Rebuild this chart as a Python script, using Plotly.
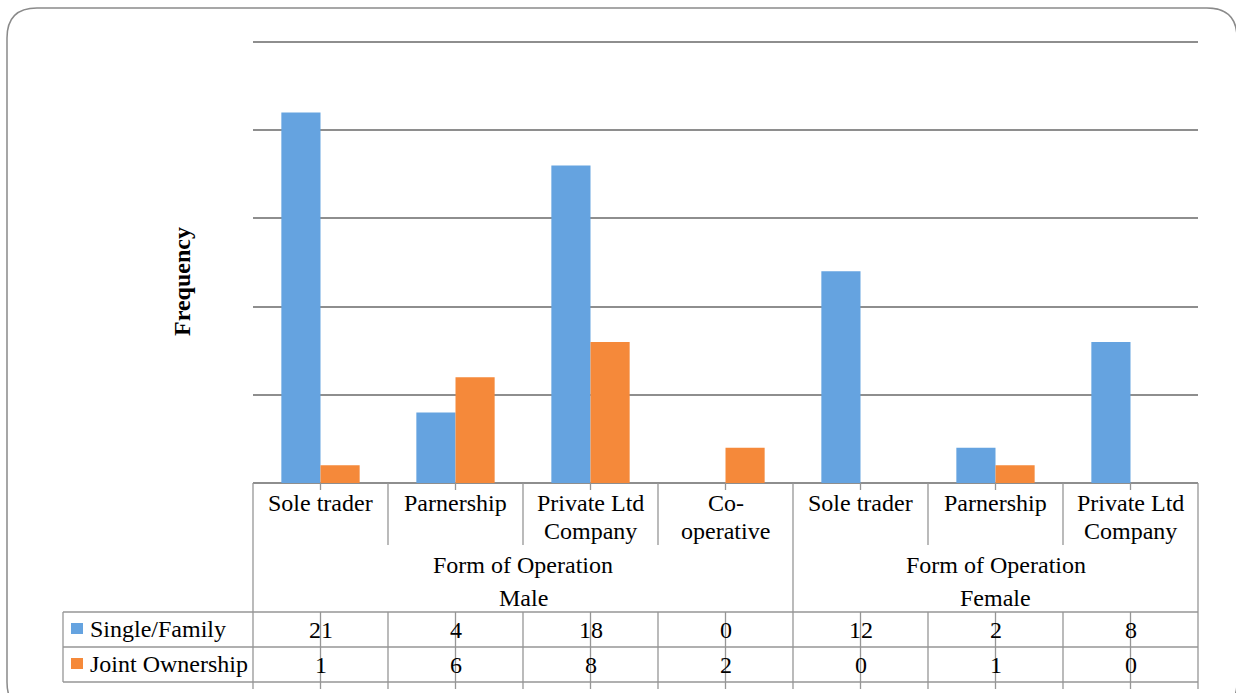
import plotly.graph_objects as go

# ---------------- data ----------------
categories = ["Sole trader", "Parnership", "Private Ltd\nCompany", "Co-\noperative",
              "Sole trader", "Parnership", "Private Ltd\nCompany"]
group_title = "Form of Operation"
group_names = ["Male", "Female"]
group_sizes = [4, 3]
series_names = ["Single/Family", "Joint Ownership"]
single_family = [21, 4, 18, 0, 12, 2, 8]
joint_ownership = [1, 6, 8, 2, 0, 1, 0]
y_ticks = [0, 5, 10, 15, 20, 25]
y_title = "Frequency"

# ---------------- style ----------------
W, H = 1236, 693
L, R, T, B = 253, 1198, 38, 483
TOP_GRID_PX = 42
YMAX = y_ticks[-1] * (B - T) / (B - TOP_GRID_PX)
BLUE = "#65A3E0"
ORANGE = "#F5893A"
GRID = "#8E8E8E"
TLINE = "#969696"
FONT = "Liberation Serif"
n = len(categories)
xs = list(range(n))
XMIN, XMAX = -0.5, n - 0.5


def px(p):
    return (p - L) / (R - L)


def py(p):
    return (B - p) / (B - T)


def dx(v):
    # data x -> paper x
    return (v - XMIN) / (XMAX - XMIN)


fig = go.Figure()
fig.add_bar(x=xs, y=single_family, name=series_names[0], marker_color=BLUE, marker_line_width=0)
fig.add_bar(x=xs, y=joint_ownership, name=series_names[1], marker_color=ORANGE, marker_line_width=0)

shapes = []
annotations = []


def hline(x0, x1, y, color=TLINE, w=1.3):
    shapes.append(dict(type="line", xref="paper", yref="paper", x0=x0, x1=x1,
                       y0=py(y), y1=py(y), line=dict(color=color, width=w)))


def vline(x, y0, y1, color=TLINE, w=1.3):
    shapes.append(dict(type="line", xref="paper", yref="paper", x0=x, x1=x,
                       y0=py(y0), y1=py(y1), line=dict(color=color, width=w)))


def text(s, x, y, size=24, bold=False, xanchor="center", angle=0):
    annotations.append(dict(text=f"<b>{s}</b>" if bold else s, xref="paper", yref="paper",
                            x=x, y=py(y), xanchor=xanchor, yanchor="middle", showarrow=False,
                            textangle=angle, font=dict(family=FONT, size=size, color="#000000")))


ROW_CAT, ROW_GRP, ROW1, ROW2, ROW_END = 545, 612, 647, 682, 689

# horizontal table lines
for yy in (ROW_GRP, ROW1, ROW2):
    hline(px(63), 1.0, yy)
vline(px(63), ROW_GRP, ROW2)

# category boundary lines
bounds = list(range(n + 1))
group_edges = [0]
for s in group_sizes:
    group_edges.append(group_edges[-1] + s)
for b in bounds:
    xb = dx(b - 0.5)
    vline(xb, B, ROW_CAT)
    vline(xb, ROW_GRP, ROW_END)
    if b in group_edges:
        vline(xb, ROW_CAT, ROW_GRP)

# tick marks at category centres
for i in xs:
    vline(dx(i), B, B + 7)
    vline(dx(i), ROW_GRP, ROW_END)

# category labels
for i, c in enumerate(categories):
    for k, line in enumerate(c.split("\n")):
        text(line, dx(i), 503 + 28 * k)

# group labels
for g, name in enumerate(group_names):
    cxg = dx((group_edges[g] + group_edges[g + 1] - 1) / 2)
    text(group_title, cxg, 565)
    text(name, cxg, 598)

# data table values
for i in xs:
    text(str(single_family[i]), dx(i), 630)
    text(str(joint_ownership[i]), dx(i), 665)

# legend keys
for k, (name, col) in enumerate(zip(series_names, [BLUE, ORANGE])):
    yc = 629 + 35 * k
    shapes.append(dict(type="rect", xref="paper", yref="paper", x0=px(71), x1=px(83),
                       y0=py(yc - 6), y1=py(yc + 5), fillcolor=col, line=dict(width=0)))
    text(name, px(88), yc, xanchor="left")

# y title
text(y_title, px(182), 282, bold=True, angle=-90)

# rounded border
bx0, by0, bx1, by1, r = 7, 8, 1237, 712, 30
pts = [
    ("M", [(bx0 + r, by0)]),
    ("L", [(bx1 - r, by0)]),
    ("Q", [(bx1, by0), (bx1, by0 + r)]),
    ("L", [(bx1, by1 - r)]),
    ("Q", [(bx1, by1), (bx1 - r, by1)]),
    ("L", [(bx0 + r, by1)]),
    ("Q", [(bx0, by1), (bx0, by1 - r)]),
    ("L", [(bx0, by0 + r)]),
    ("Q", [(bx0, by0), (bx0 + r, by0)]),
]
path = " ".join(cmd + " " + " ".join(f"{px(a):.5f},{py(b):.5f}" for a, b in p) for cmd, p in pts)
shapes.append(dict(type="path", xref="paper", yref="paper", path=path,
                   line=dict(color="#8A8A8A", width=1.5)))

fig.update_layout(
    width=W, height=H,
    margin=dict(l=L, r=W - R, t=T, b=H - B, pad=0),
    paper_bgcolor="white", plot_bgcolor="white",
    showlegend=False,
    barmode="group", bargap=0.42, bargroupgap=0,
    xaxis=dict(range=[XMIN, XMAX], showticklabels=False, showgrid=False, zeroline=False,
               showline=False, ticks=""),
    yaxis=dict(range=[y_ticks[0], YMAX], tickvals=y_ticks, showticklabels=False,
               showgrid=True, gridcolor=GRID, gridwidth=2, zeroline=True,
               zerolinecolor=GRID, zerolinewidth=2, showline=False, ticks=""),
    shapes=shapes,
    annotations=annotations,
)

fig.write_html("out.html", config={"displayModeBar": False},
               post_script="document.body.style.margin='0';document.body.style.overflow='hidden';")
